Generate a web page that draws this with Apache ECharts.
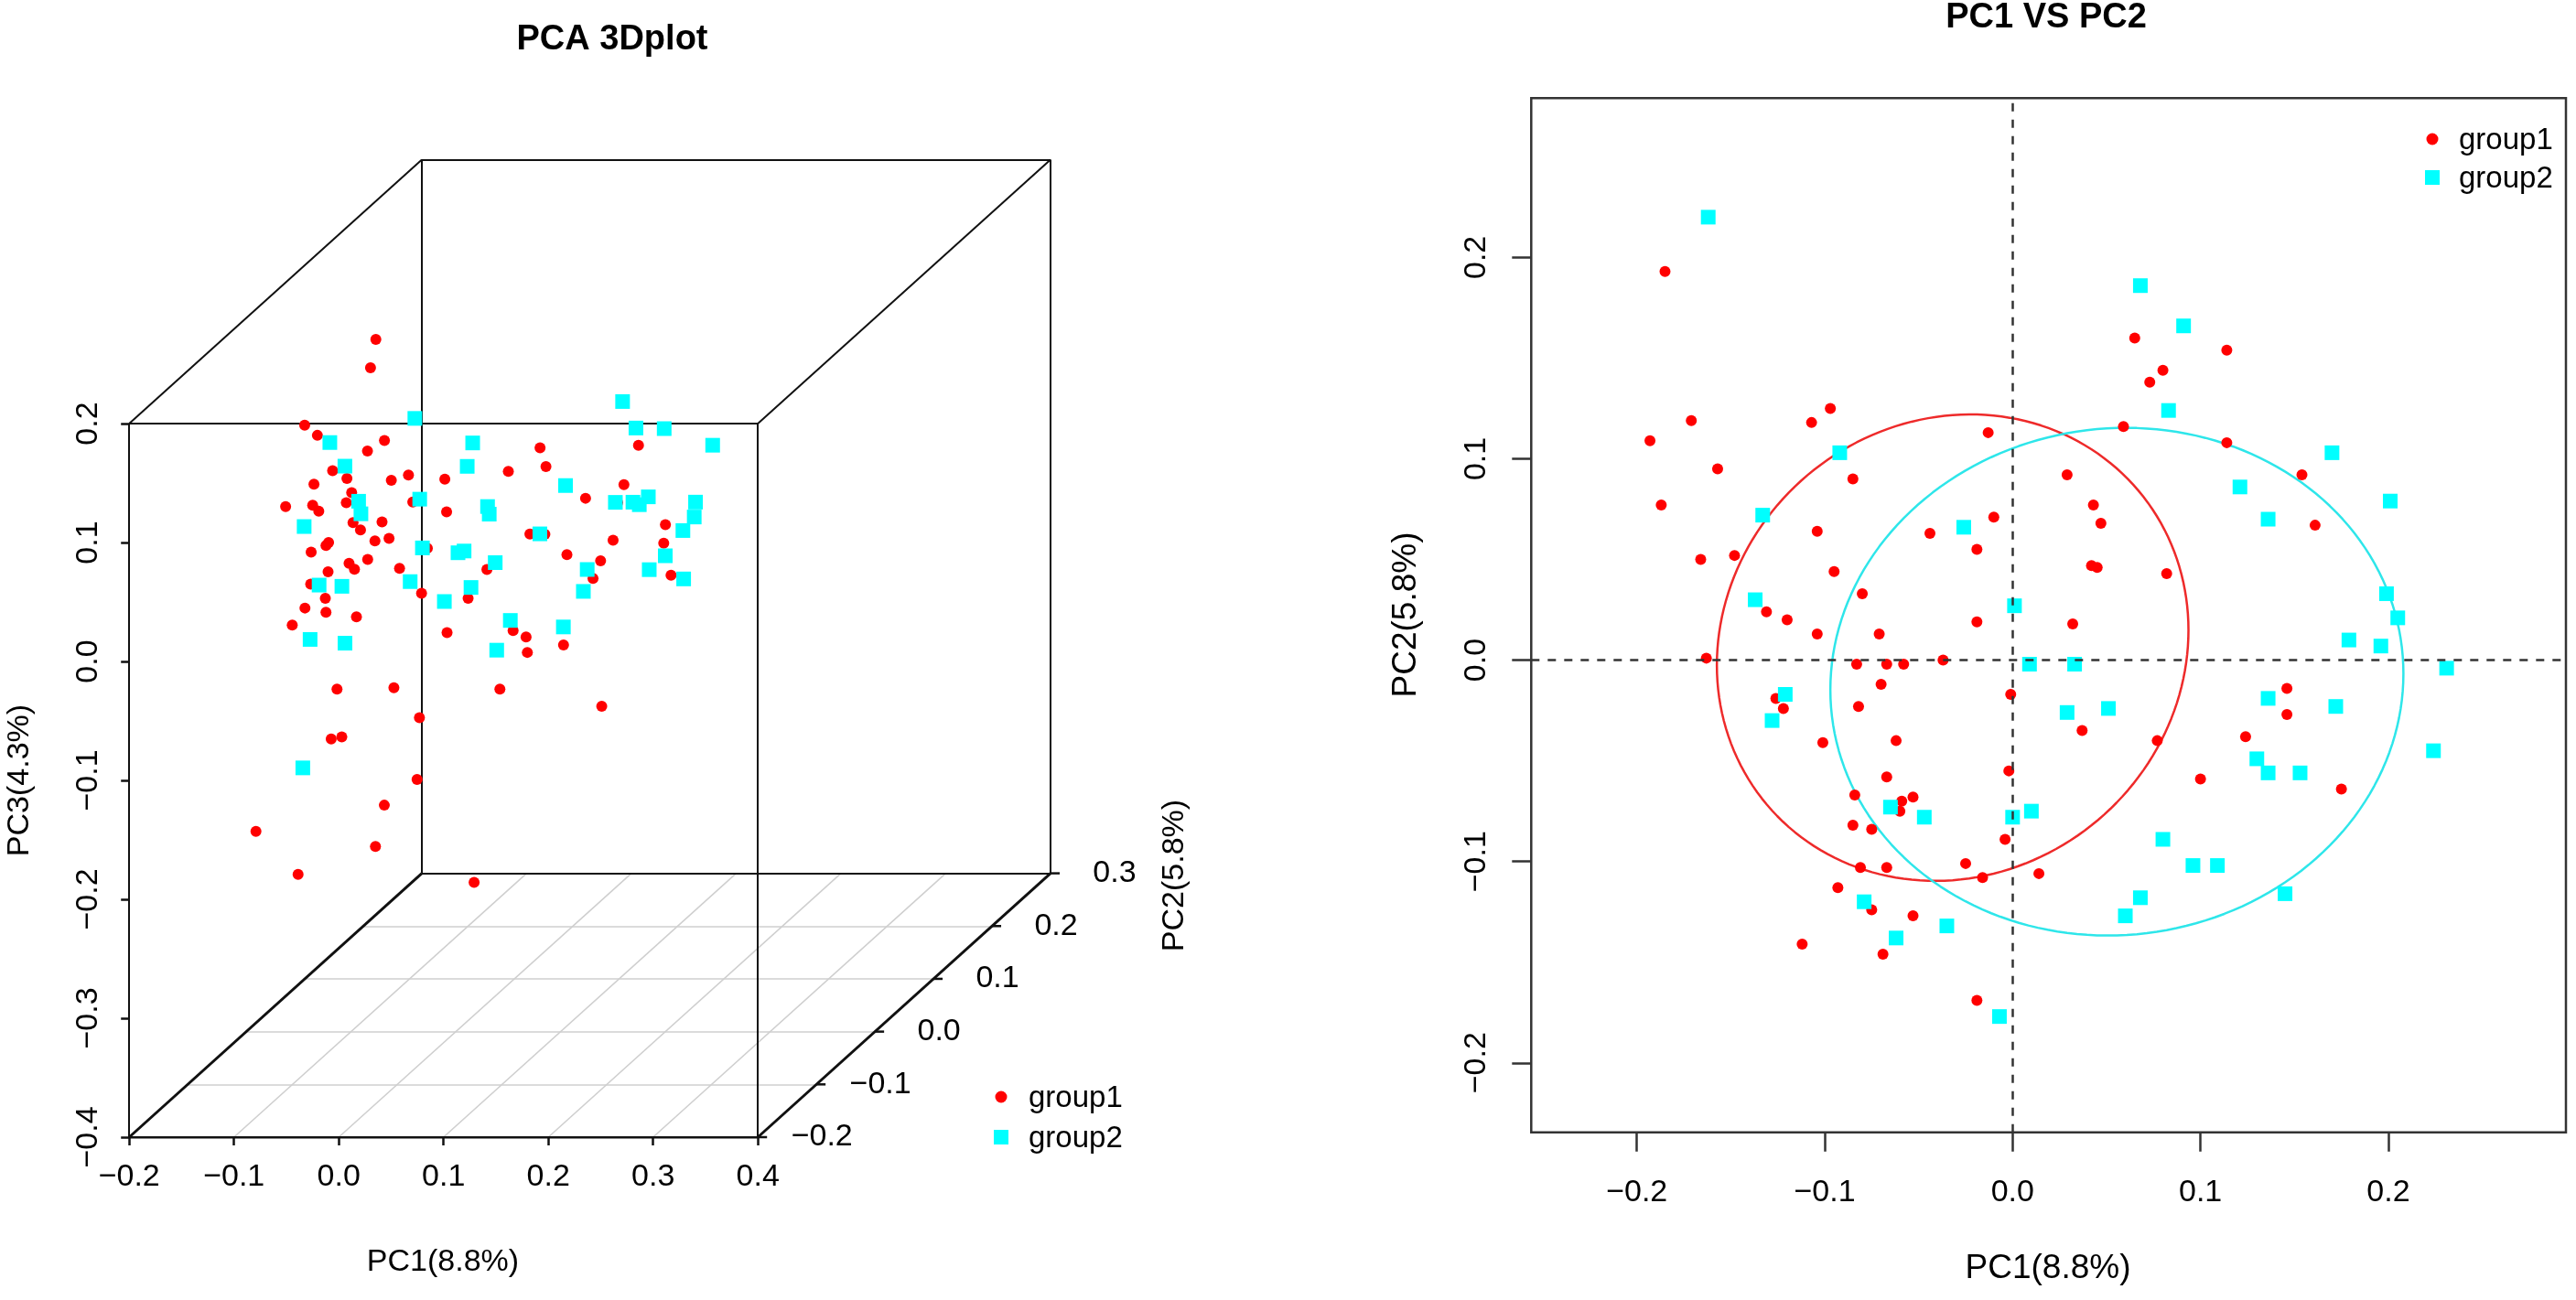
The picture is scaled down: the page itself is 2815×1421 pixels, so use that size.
<!DOCTYPE html>
<html>
<head>
<meta charset="utf-8">
<title>PCA 3Dplot / PC1 VS PC2</title>
<script src="https://cdn.jsdelivr.net/npm/echarts@6/dist/echarts.min.js"></script>
<style>
  html, body { margin: 0; padding: 0; background: #fff; }
  #chart { width: 2815px; height: 1421px; }
</style>
</head>
<body>
<div id="chart"></div>
<script>
// ---- data ----
var group1PC1 = [-0.185, -0.193, -0.171, -0.187, -0.157, -0.166, -0.148, -0.163, -0.131, -0.120,
    -0.126, -0.122, -0.107, -0.097, -0.104, -0.104, -0.101, -0.095, -0.085, -0.080,
    -0.083, -0.082, -0.071, -0.070, -0.067, -0.058, -0.062, -0.067, -0.084, -0.085,
    -0.075, -0.060, -0.059, -0.053, -0.081, -0.067, -0.093, -0.075, -0.053, -0.112,
    -0.069, -0.044, -0.037, -0.019, -0.019, -0.013, -0.010, -0.001, -0.002, -0.004,
    -0.025, -0.016, 0.014, -0.019, 0.029, 0.043, 0.047, 0.042, 0.045, 0.032,
    0.037, 0.059, 0.065, 0.073, 0.080, 0.082, 0.077, 0.100, 0.114, 0.114,
    0.124, 0.146, 0.146, 0.154, 0.161, 0.175];
var group1PC2 = [0.193, 0.109, 0.119, 0.077, 0.095, 0.050, 0.052, 0.001, 0.024, 0.020,
    -0.019, -0.024, 0.118, 0.125, 0.064, 0.013, -0.041, 0.044, 0.090, 0.033,
    -0.002, -0.023, 0.013, -0.012, -0.002, -0.002, -0.040, -0.058, -0.067, -0.082,
    -0.084, -0.075, -0.070, -0.068, -0.103, -0.103, -0.113, -0.124, -0.127, -0.141,
    -0.146, 0.063, -0.000, 0.055, 0.019, 0.113, 0.071, -0.017, -0.055, -0.089,
    -0.101, -0.108, -0.106, -0.169, 0.092, 0.077, 0.068, 0.047, 0.046, 0.018,
    -0.035, 0.116, 0.160, 0.138, 0.144, 0.043, -0.040, -0.059, 0.154, 0.108,
    -0.038, -0.014, -0.027, 0.092, 0.067, -0.064];
var group1PC3 = [-0.073, 0.053, -0.008, -0.078, 0.023, -0.019, -0.177, 0.041, 0.061, -0.161,
    0.051, 0.071, -0.007, -0.049, -0.238, -0.017, 0.027, 0.009, -0.176, 0.049,
    -0.002, -0.041, 0.009, -0.239, 0.098, -0.110, 0.106, 0.079, 0.041, 0.074,
    0.024, 0.027, 0.059, 0.052, 0.022, 0.010, -0.008, 0.165, 0.009, -0.169,
    -0.203, 0.009, -0.188, -0.060, -0.073, 0.021, -0.043, 0.072, -0.007, 0.029,
    0.203, 0.230, 0.115, -0.037, 0.050, 0.041, -0.012, -0.102, -0.002, -0.120,
    -0.259, -0.003, -0.026, -0.048, -0.004, -0.018, -0.045, -0.042, -0.042, 0.045,
    -0.058, 0.002, -0.007, -0.057, -0.019, -0.098];

var group2PC1 = [-0.162, -0.133, -0.137, -0.121, -0.128, -0.092, -0.079, -0.065, -0.047, -0.062,
    -0.035, -0.026, 0.001, 0.009, 0.033, 0.029, 0.051, 0.000, 0.010, -0.007,
    0.068, 0.091, 0.083, 0.121, 0.136, 0.170, 0.201, 0.199, 0.205, 0.179,
    0.196, 0.231, 0.136, 0.172, 0.130, 0.136, 0.153, 0.224, 0.080, 0.096,
    0.109, 0.145, 0.068, 0.060];
var group2PC2 = [0.220, 0.072, 0.030, -0.017, -0.030, 0.103, -0.120, -0.073, -0.078, -0.138,
    -0.132, 0.066, 0.027, -0.002, -0.002, -0.026, -0.024, -0.078, -0.075, -0.177,
    0.186, 0.166, 0.124, 0.086, 0.070, 0.103, 0.079, 0.033, 0.021, 0.010,
    0.007, -0.004, -0.019, -0.023, -0.049, -0.056, -0.056, -0.045, -0.089, -0.102,
    -0.102, -0.116, -0.118, -0.127];
var group2PC3 = [0.018, 0.014, 0.082, -0.017, 0.038, 0.002, -0.125, -0.041, 0.070, -0.009,
    0.033, 0.046, 0.083, 0.005, 0.036, -0.015, 0.005, 0.013, 0.040, 0.154,
    0.025, -0.024, -0.010, 0.007, 0.012, -0.013, 0.058, -0.034, 0.012, -0.016,
    -0.003, 0.047, -0.003, 0.140, -0.038, 0.084, -0.005, 0.127, 0.081, -0.034,
    -0.009, 0.070, 0.055, 0.018];

// ellipses: centre x, centre y, half width, half height, tilt term
var group1Ellipse = [-0.0319, 0.0062, 0.1255, 0.1155, 0.0087];
var group2Ellipse = [0.0555, -0.0107, 0.1525, 0.1260, 0.0040];

// axes
var pc1Range3d = [-0.2, 0.4];
var pc2Range3d = [-0.2, 0.3];
var pc3Range3d = [-0.4, 0.2];
var pc1Ticks3d = [-0.2, -0.1, 0, 0.1, 0.2, 0.3, 0.4];
var pc2Ticks3d = [-0.2, -0.1, 0, 0.1, 0.2, 0.3];
var pc3Ticks3d = [-0.4, -0.3, -0.2, -0.1, 0, 0.1, 0.2];
var pc1Range = [-0.2562, 0.2945];
var pc2Range = [-0.2345, 0.2791];
var pc1Ticks = [-0.2, -0.1, 0, 0.1, 0.2];
var pc2Ticks = [-0.2, -0.1, 0, 0.1, 0.2];

// ---- helpers ----
var FONT = '"Liberation Sans", Arial, Helvetica, sans-serif';
var RED = '#ff0000', CYAN = '#00ffff';
// oblique projection of the 3d box (depth axis = PC2)
var KX = 0.5586, KY = 0.4437;

function project(x, y, z) {
    var d = y - pc2Range3d[0];
    return [x + d * KX, z + d * KY];
}
function fmt(v) {
    return (v < -1e-9 ? '\u2212' : '') + Math.abs(v).toFixed(1);
}
function toLines(edges) {
    return edges.map(function (e) {
        return { coords: [project(e[0][0], e[0][1], e[0][2]), project(e[1][0], e[1][1], e[1][2])] };
    });
}
function ellipsePoints(e) {
    var pts = [];
    for (var i = 0; i <= 180; i++) {
        var t = i / 180 * 2 * Math.PI;
        pts.push([e[0] + e[2] * Math.cos(t), e[1] + e[3] * Math.sin(t) + e[4] * Math.cos(t)]);
    }
    return pts;
}

var x0 = pc1Range3d[0], x1 = pc1Range3d[1];
var y0 = pc2Range3d[0], y1 = pc2Range3d[1];
var z0 = pc3Range3d[0], z1 = pc3Range3d[1];

var axisEdges = [
    [[x0, y0, z0], [x1, y0, z0]],
    [[x0, y0, z0], [x0, y1, z0]],
    [[x1, y0, z0], [x1, y1, z0]]
];
var boxEdges = [
    [[x0, y0, z1], [x1, y0, z1]], [[x0, y0, z0], [x0, y0, z1]], [[x1, y0, z0], [x1, y0, z1]],
    [[x0, y1, z0], [x1, y1, z0]], [[x0, y1, z1], [x1, y1, z1]],
    [[x0, y1, z0], [x0, y1, z1]], [[x1, y1, z0], [x1, y1, z1]],
    [[x0, y0, z1], [x0, y1, z1]], [[x1, y0, z1], [x1, y1, z1]]
];
var floorEdges = [];
pc2Ticks3d.forEach(function (t) {
    if (t > y0 + 1e-9 && t < y1 - 1e-9) floorEdges.push([[x0, t, z0], [x1, t, z0]]);
});
pc1Ticks3d.forEach(function (t) {
    if (t > x0 + 1e-9 && t < x1 - 1e-9) floorEdges.push([[t, y0, z0], [t, y1, z0]]);
});

var g1Proj = group1PC1.map(function (v, i) { return project(v, group1PC2[i], group1PC3[i]); });
var g2Proj = group2PC1.map(function (v, i) { return project(v, group2PC2[i], group2PC3[i]); });
var g1Flat = group1PC1.map(function (v, i) { return [v, group1PC2[i]]; });
var g2Flat = group2PC1.map(function (v, i) { return [v, group2PC2[i]]; });

var chart = echarts.init(document.getElementById('chart'));

var labelStyle = { fontSize: 34, fontFamily: FONT, color: '#000' };

var option = {
    animation: false,
    backgroundColor: '#fff',
    grid: [{
        left: 141.2, top: 174.6, width: 1006.8, height: 1068.4,
        containLabel: false, outerBoundsMode: 'none', show: false
    }, {
        left: 1673.3, top: 107.3, width: 1130.7, height: 1130.4,
        containLabel: false, outerBoundsMode: 'none',
        show: true, borderColor: '#333', borderWidth: 2.5, backgroundColor: 'transparent'
    }],
    xAxis: [{
        gridIndex: 0, type: 'value',
        min: x0, max: x1 + (y1 - y0) * KX,
        axisLine: { show: false, onZero: false },
        splitLine: { show: false },
        axisTick: { show: true, customValues: pc1Ticks3d, length: 9, lineStyle: { color: '#111', width: 2.5 } },
        axisLabel: Object.assign({ customValues: pc1Ticks3d, formatter: fmt, margin: 27 }, labelStyle)
    }, {
        gridIndex: 1, type: 'value',
        min: pc1Range[0], max: pc1Range[1],
        axisLine: { show: false, onZero: false },
        splitLine: { show: false },
        axisTick: { show: true, customValues: pc1Ticks, length: 21, lineStyle: { color: '#333', width: 2.5 } },
        axisLabel: Object.assign({ customValues: pc1Ticks, formatter: fmt, margin: 49 }, labelStyle)
    }],
    yAxis: [{
        gridIndex: 0, type: 'value',
        min: z0, max: z1 + (y1 - y0) * KY,
        axisLine: { show: false, onZero: false },
        splitLine: { show: false },
        axisTick: { show: true, customValues: pc3Ticks3d, length: 9, lineStyle: { color: '#111', width: 2.5 } },
        axisLabel: Object.assign({ customValues: pc3Ticks3d, formatter: fmt, margin: 28, rotate: 90 }, labelStyle)
    }, {
        gridIndex: 1, type: 'value',
        min: pc2Range[0], max: pc2Range[1],
        axisLine: { show: false, onZero: false },
        splitLine: { show: false },
        axisTick: { show: true, customValues: pc2Ticks, length: 21, lineStyle: { color: '#333', width: 2.5 } },
        axisLabel: Object.assign({ customValues: pc2Ticks, formatter: fmt, margin: 43, rotate: 90 }, labelStyle)
    }],
    series: [
        // ---- 3d plot ----
        {
            type: 'lines', coordinateSystem: 'cartesian2d', xAxisIndex: 0, yAxisIndex: 0,
            silent: true, z: 1,
            lineStyle: { color: '#cfcfcf', width: 1.6, opacity: 1 },
            data: toLines(floorEdges)
        },
        {
            type: 'lines', coordinateSystem: 'cartesian2d', xAxisIndex: 0, yAxisIndex: 0,
            silent: true, z: 2,
            lineStyle: { color: '#111', width: 2, opacity: 1 },
            data: toLines(boxEdges)
        },
        {
            type: 'lines', coordinateSystem: 'cartesian2d', xAxisIndex: 0, yAxisIndex: 0,
            silent: true, z: 2,
            lineStyle: { color: '#111', width: 3, opacity: 1 },
            data: toLines(axisEdges)
        },
        {
            // PC2 depth axis: ticks + labels along the lower right edge
            type: 'custom', xAxisIndex: 0, yAxisIndex: 0, silent: true, clip: false, z: 2,
            data: pc2Ticks3d.map(function (t) { return [t]; }),
            encode: { x: 0 },
            renderItem: function (params, api) {
                var t = api.value(0);
                var p = api.coord(project(x1, t, z0));
                return {
                    type: 'group',
                    children: [{
                        type: 'line',
                        shape: { x1: p[0], y1: p[1], x2: p[0] + 10, y2: p[1] },
                        style: { stroke: '#111', lineWidth: 2.5 }
                    }, {
                        type: 'text',
                        x: p[0] + 70, y: p[1],
                        style: {
                            text: fmt(t), fontSize: 34, fontFamily: FONT, fill: '#000',
                            align: 'center', verticalAlign: 'middle',
                            textAlign: 'center', textVerticalAlign: 'middle'
                        }
                    }]
                };
            }
        },
        {
            name: 'group1', type: 'scatter', xAxisIndex: 0, yAxisIndex: 0, z: 3,
            symbol: 'circle', symbolSize: 12,
            itemStyle: { color: RED, opacity: 1 },
            data: g1Proj
        },
        {
            name: 'group2', type: 'scatter', xAxisIndex: 0, yAxisIndex: 0, z: 3,
            symbol: 'rect', symbolSize: 16,
            itemStyle: { color: CYAN, opacity: 1 },
            data: g2Proj
        },
        // ---- PC1 vs PC2 ----
        {
            type: 'line', xAxisIndex: 1, yAxisIndex: 1, z: 2, silent: true,
            showSymbol: false, smooth: false,
            lineStyle: { color: '#ee2a2a', width: 2.5 },
            data: ellipsePoints(group1Ellipse)
        },
        {
            type: 'line', xAxisIndex: 1, yAxisIndex: 1, z: 2, silent: true,
            showSymbol: false, smooth: false,
            lineStyle: { color: '#2ee6ea', width: 2.5 },
            data: ellipsePoints(group2Ellipse)
        },
        {
            name: 'group1', type: 'scatter', xAxisIndex: 1, yAxisIndex: 1, z: 3,
            symbol: 'circle', symbolSize: 12,
            itemStyle: { color: RED, opacity: 1 },
            data: g1Flat,
            markLine: {
                silent: true, symbol: 'none', animation: false,
                label: { show: false },
                lineStyle: { type: [9, 9], color: '#333', width: 2.5 },
                data: [{ xAxis: 0 }, { yAxis: 0 }]
            }
        },
        {
            name: 'group2', type: 'scatter', xAxisIndex: 1, yAxisIndex: 1, z: 3,
            symbol: 'rect', symbolSize: 16,
            itemStyle: { color: CYAN, opacity: 1 },
            data: g2Flat
        }
    ],
    graphic: [
        { type: 'text', x: 669, y: 44, style: { text: 'PCA 3Dplot', fontSize: 38, fontWeight: 'bold', fontFamily: FONT, fill: '#000', align: 'center', verticalAlign: 'middle', textAlign: 'center', textVerticalAlign: 'middle' } },
        { type: 'text', x: 2236, y: 20, style: { text: 'PC1 VS PC2', fontSize: 38, fontWeight: 'bold', fontFamily: FONT, fill: '#000', align: 'center', verticalAlign: 'middle', textAlign: 'center', textVerticalAlign: 'middle' } },
        { type: 'text', x: 484, y: 1380, style: { text: 'PC1(8.8%)', fontSize: 34, fontFamily: FONT, fill: '#000', align: 'center', verticalAlign: 'middle', textAlign: 'center', textVerticalAlign: 'middle' } },
        { type: 'text', x: 22, y: 853, rotation: Math.PI / 2, style: { text: 'PC3(4.3%)', fontSize: 34, fontFamily: FONT, fill: '#000', align: 'center', verticalAlign: 'middle', textAlign: 'center', textVerticalAlign: 'middle' } },
        { type: 'text', x: 1284, y: 957, rotation: Math.PI / 2, style: { text: 'PC2(5.8%)', fontSize: 34, fontFamily: FONT, fill: '#000', align: 'center', verticalAlign: 'middle', textAlign: 'center', textVerticalAlign: 'middle' } },
        { type: 'text', x: 2238, y: 1387, style: { text: 'PC1(8.8%)', fontSize: 37, fontFamily: FONT, fill: '#000', align: 'center', verticalAlign: 'middle', textAlign: 'center', textVerticalAlign: 'middle' } },
        { type: 'text', x: 1537, y: 672, rotation: Math.PI / 2, style: { text: 'PC2(5.8%)', fontSize: 37, fontFamily: FONT, fill: '#000', align: 'center', verticalAlign: 'middle', textAlign: 'center', textVerticalAlign: 'middle' } },
        // legends
        { type: 'circle', shape: { cx: 1094, cy: 1199, r: 6.5 }, style: { fill: RED } },
        { type: 'rect', shape: { x: 1086, y: 1235, width: 16, height: 16 }, style: { fill: CYAN } },
        { type: 'text', x: 1124, y: 1201, style: { text: 'group1', fontSize: 33, fontFamily: FONT, fill: '#000', align: 'left', verticalAlign: 'middle', textAlign: 'left', textVerticalAlign: 'middle' } },
        { type: 'text', x: 1124, y: 1245, style: { text: 'group2', fontSize: 33, fontFamily: FONT, fill: '#000', align: 'left', verticalAlign: 'middle', textAlign: 'left', textVerticalAlign: 'middle' } },
        { type: 'circle', shape: { cx: 2658, cy: 152, r: 6.5 }, style: { fill: RED } },
        { type: 'rect', shape: { x: 2650, y: 186, width: 16, height: 16 }, style: { fill: CYAN } },
        { type: 'text', x: 2687, y: 154, style: { text: 'group1', fontSize: 33, fontFamily: FONT, fill: '#000', align: 'left', verticalAlign: 'middle', textAlign: 'left', textVerticalAlign: 'middle' } },
        { type: 'text', x: 2687, y: 196, style: { text: 'group2', fontSize: 33, fontFamily: FONT, fill: '#000', align: 'left', verticalAlign: 'middle', textAlign: 'left', textVerticalAlign: 'middle' } }
    ]
};

chart.setOption(option);
window.addEventListener('resize', function () {
    chart.resize();
});
</script>
</body>
</html>
